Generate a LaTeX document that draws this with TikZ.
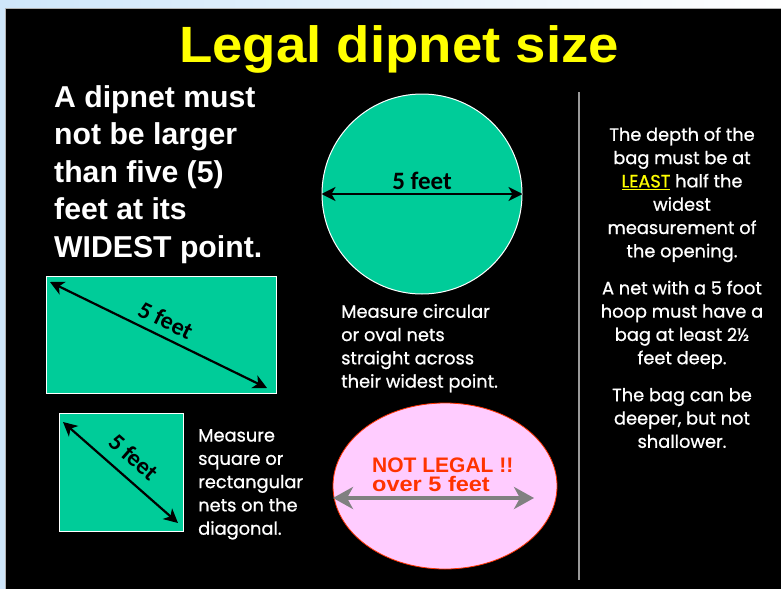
\documentclass[tikz,border=0pt]{standalone}
\usepackage{fontspec}
\setmainfont{Liberation Sans}
\newfontfamily\popfont[FakeBold=0.8]{Poppins}
\newfontfamily\carfont{Carlito}
\usetikzlibrary{arrows.meta,shapes.geometric}
\definecolor{bgblue}{HTML}{CFE6FA}
\definecolor{netgreen}{HTML}{00CC99}
\definecolor{netpink}{HTML}{FFCCFF}
\definecolor{nlred}{HTML}{FF3300}
\definecolor{ttlyellow}{HTML}{FFFF00}
\begin{document}
\begin{tikzpicture}[x=1pt,y=-1pt,
  blkarrow/.style={{Stealth[length=14pt,width=14pt,inset=4pt]}-{Stealth[length=14pt,width=14pt,inset=4pt]}, line width=2.2pt, black},
  greyarrow/.style={{Stealth[length=20pt,width=22pt,inset=6pt]}-{Stealth[length=20pt,width=22pt,inset=6pt]}, line width=4pt, gray},
  netshape/.style={fill=netgreen, draw=white, line width=1pt, inner sep=0},
  feetlbl/.style={font=\carfont\bfseries\fontsize{24}{24}\selectfont, text=black, inner sep=1pt},
  smalltxt/.style={font=\popfont\fontsize{17.8}{23.3}\selectfont, text=white, inner sep=0},
  bigtxt/.style={font=\bfseries\fontsize{30.2}{37.5}\selectfont, text=white, inner sep=0, align=left}]
\useasboundingbox (0,0) rectangle (781,589);
\shade[left color=bgblue, right color=white] (0,0) rectangle (781,8);
\fill[bgblue] (0,8) rectangle (5,589);
\fill[black] (5,8) rectangle (781,589);
\draw[gray!60, line width=1.2pt] (5.6,589) -- (5.6,8.6) -- (781,8.6);

% title
\node[anchor=base, inner sep=0, text=ttlyellow, font=\bfseries\fontsize{51}{51}\selectfont] (title) at (399,62) {\scalebox{1.07}[1]{Legal dipnet size}};

% left text
\node[bigtxt, anchor=north west] (intro) at (54,85) {A dipnet must\\not be larger\\than five (5)\\feet at its\\WIDEST point.};

% rectangle net
\node[netshape, anchor=north west, minimum width=230pt, minimum height=117pt] (rect) at (46,276) {};
\coordinate (r1) at (50,282);
\coordinate (r2) at (267,388);
\draw[blkarrow] (r1) -- (r2) node[midway, sloped, above=6pt, feetlbl] (rlbl) {5 feet};

% square net
\node[netshape, anchor=north west, minimum width=124pt, minimum height=118pt] (sq) at (59,413) {};
\coordinate (s1) at (63,422);
\coordinate (s2) at (178,523);
\draw[blkarrow] (s1) -- (s2) node[midway, sloped, above=10pt, feetlbl] (slbl) {5 feet};

\node[smalltxt, anchor=north west, align=left] (sqtxt) at (198,429) {Measure\\square or\\rectangular\\nets on the\\diagonal.};

% circle net
\node[netshape, circle, minimum size=200pt] (circ) at (422,194) {};
\draw[blkarrow] (circ.west) -- (circ.east) node[midway, above=2pt, feetlbl, font=\carfont\bfseries\fontsize{25}{25}\selectfont] (clbl) {5 feet};

\node[smalltxt, anchor=north west, align=left] (circtxt) at (341,304) {Measure circular\\or oval nets\\straight across\\their widest point.};

% oval not legal
\node[ellipse, fill=netpink, draw=nlred, line width=0.8pt, minimum width=224pt, minimum height=166pt, inner sep=0] (oval) at (445,486) {};
\node[anchor=base west, inner sep=0, text=nlred, font=\bfseries\fontsize{21}{21}\selectfont] (nl1) at (372,472) {NOT LEGAL !!};
\node[anchor=base west, inner sep=0, text=nlred, font=\bfseries\fontsize{21}{21}\selectfont] (nl2) at (372,491) {\scalebox{1.12}[1]{over 5 feet}};
\coordinate (o1) at (333,498);
\coordinate (o2) at (534,498);
\draw[greyarrow] (o1) -- (o2);

% divider
\coordinate (vtop) at (579,92);
\coordinate (vbot) at (579,580);
\draw[gray!80!white, line width=1.5pt] (vtop) -- (vbot);

% right text
\node[smalltxt, anchor=north, align=center] (rtxt) at (682,127) {The depth of the\\bag must be at\\{\color{ttlyellow}\underline{LEAST}} half the\\widest\\measurement of\\the opening.\\[13.7pt]A net with a 5 foot\\hoop must have a\\bag at least 2½\\feet deep.\\[13.7pt]The bag can be\\deeper, but not\\shallower.};
\end{tikzpicture}
\end{document}
